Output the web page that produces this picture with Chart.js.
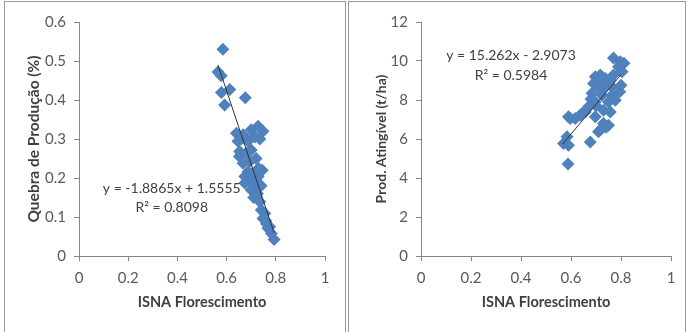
<!DOCTYPE html>
<html>
<head>
<meta charset="utf-8">
<script src="https://cdn.jsdelivr.net/npm/chart.js@4.4.1/dist/chart.umd.min.js"></script>
<style>
  body { margin: 0; background: #fff; width: 687px; height: 332px; overflow: hidden; position: relative; }
  canvas { position: absolute; top: 0; }
  #c1 { left: 0; }
  #c2 { left: 345px; }
  .panel { position: absolute; top: 1px; height: 340px; border: 1px solid #9a9a9a; box-sizing: border-box; pointer-events: none; }
</style>
</head>
<body>
<canvas id="c1" width="345" height="332"></canvas>
<canvas id="c2" width="342" height="332"></canvas>
<div class="panel" style="left:4px;width:342px;"></div>
<div class="panel" style="left:348px;width:338px;"></div>
<script>
// left chart: Quebra de Produção vs ISNA
const isnaLeft = [0.585, 0.565, 0.578, 0.579, 0.613, 0.592, 0.676, 0.640, 0.667, 0.700,
  0.728, 0.748, 0.714, 0.687, 0.646, 0.653, 0.680, 0.700, 0.652, 0.667,
  0.694, 0.687, 0.707, 0.674, 0.728, 0.707, 0.674, 0.728, 0.700, 0.720,
  0.735, 0.741, 0.755, 0.748, 0.762, 0.768, 0.782, 0.793, 0.730, 0.745,
  0.720, 0.740, 0.725, 0.710, 0.735, 0.760, 0.775, 0.700, 0.715, 0.660];
const quebra = [0.530, 0.472, 0.462, 0.419, 0.427, 0.387, 0.406, 0.315, 0.311, 0.324,
  0.333, 0.320, 0.307, 0.294, 0.294, 0.268, 0.264, 0.272, 0.255, 0.238,
  0.242, 0.216, 0.212, 0.204, 0.204, 0.195, 0.187, 0.178, 0.169, 0.152,
  0.139, 0.118, 0.109, 0.096, 0.083, 0.071, 0.058, 0.042, 0.225, 0.220,
  0.250, 0.180, 0.160, 0.150, 0.300, 0.090, 0.075, 0.190, 0.305, 0.300];
const trendLeft = { slope: -1.8865, intercept: 1.5555, from: 0.565, to: 0.793 };
const eqLeft = ["y = -1.8865x + 1.5555", "R² = 0.8098"];

// right chart: Prod. Atingível vs ISNA
const isnaRight = [0.770, 0.797, 0.812, 0.790, 0.804, 0.770, 0.697, 0.717, 0.737, 0.757,
  0.690, 0.710, 0.737, 0.764, 0.800, 0.684, 0.724, 0.764, 0.795, 0.697,
  0.750, 0.777, 0.670, 0.657, 0.637, 0.617, 0.597, 0.730, 0.757, 0.590,
  0.644, 0.697, 0.730, 0.750, 0.710, 0.677, 0.584, 0.570, 0.590, 0.588,
  0.720, 0.740, 0.700, 0.680, 0.720];
const prodAting = [10.15, 9.96, 9.88, 9.70, 9.45, 9.28, 9.19, 9.28, 9.10, 9.02,
  8.85, 8.68, 8.68, 8.68, 8.76, 8.34, 8.25, 8.25, 8.42, 7.90,
  7.90, 7.99, 7.65, 7.39, 7.22, 7.05, 7.05, 7.48, 7.39, 7.14,
  7.31, 7.14, 6.80, 6.71, 6.37, 5.85, 6.11, 5.77, 5.68, 4.72,
  6.50, 6.60, 7.70, 8.05, 9.00];
const trendRight = { slope: 15.262, intercept: -2.9073, from: 0.567, to: 0.800 };
const eqRight = ["y = 15.262x - 2.9073", "R² = 0.5984"];

const xTickLabels = ["0", "0.2", "0.4", "0.6", "0.8", "1"];
const yTickLabelsLeft = ["0", "0.1", "0.2", "0.3", "0.4", "0.5", "0.6"];
const yTickLabelsRight = ["0", "2", "4", "6", "8", "10", "12"];

const FONT = "Lato";
const AXIS = "#868686";
const TEXT = "#595959";
const BLUE = "#4f81bd";

function makeChart(id, xs, ys, trend, eq, eqPos, cfg) {
  const pts = xs.map((x, i) => ({ x: x, y: ys[i] }));
  const line = [trend.from, trend.to].map(x => ({ x: x, y: trend.slope * x + trend.intercept }));

  const eqPlugin = {
    id: "eq",
    afterDatasetsDraw(chart) {
      const ctx = chart.ctx;
      const xs = chart.scales.x, ys = chart.scales.y;
      ctx.save();
      ctx.fillStyle = "#404040";
      ctx.font = "14px " + FONT;
      ctx.textAlign = "center";
      ctx.textBaseline = "middle";
      ctx.fillText(eq[0], xs.getPixelForValue(eqPos.x), ys.getPixelForValue(eqPos.y1));
      ctx.fillText(eq[1], xs.getPixelForValue(eqPos.x), ys.getPixelForValue(eqPos.y2));
      ctx.restore();
    }
  };

  return new Chart(document.getElementById(id), {
    type: "scatter",
    data: {
      datasets: [
        {
          type: "line",
          data: line,
          borderColor: "#333333",
          borderWidth: 1,
          pointRadius: 0,
          fill: false,
        },
        {
          data: pts,
          pointStyle: "rectRot",
          pointRadius: 6.5,
          pointBackgroundColor: BLUE,
          pointBorderColor: BLUE,
          pointBorderWidth: 0,
        },
      ],
    },
    options: {
      responsive: false,
      animation: false,
      layout: { padding: { left: 0, right: cfg.padRight, top: 22, bottom: 0 } },
      plugins: { legend: { display: false }, tooltip: { enabled: false } },
      scales: {
        x: {
          type: "linear",
          min: 0,
          max: 1,
          afterFit: s => { s.height = 76; },
          ticks: {
            stepSize: 0.2,
            color: TEXT,
            font: { family: FONT, size: 15 },
            padding: 8,
            callback: (v, i) => xTickLabels[i],
          },
          grid: { drawOnChartArea: false, drawTicks: true, tickLength: 5, color: AXIS },
          border: { display: true, color: AXIS },
          title: {
            display: true,
            text: "ISNA Florescimento",
            color: "#404040",
            font: { family: FONT, size: 14.5, weight: "bold" },
            padding: { top: 0, bottom: 21 },
          },
        },
        y: {
          type: "linear",
          min: 0,
          max: cfg.yMax,
          afterFit: s => { s.width = cfg.yWidth; },
          ticks: {
            stepSize: cfg.yStep,
            color: TEXT,
            font: { family: FONT, size: 15 },
            padding: 8,
            callback: (v, i) => cfg.yLabels[i],
          },
          grid: { drawOnChartArea: false, drawTicks: true, tickLength: 5, color: AXIS },
          border: { display: true, color: AXIS },
          title: {
            display: true,
            text: cfg.yTitle,
            color: "#404040",
            font: { family: FONT, size: cfg.yTitleSize, weight: "bold" },
            padding: { top: cfg.yTitlePad, bottom: 0 },
          },
        },
      },
    },
    plugins: [eqPlugin],
  });
}

makeChart("c1", isnaLeft, quebra, trendLeft, eqLeft, { x: 0.377, y1: 0.174, y2: 0.125 }, {
  padRight: 20, yWidth: 79, yMax: 0.6, yStep: 0.1, yLabels: yTickLabelsLeft,
  yTitle: "Quebra de Produção (%)", yTitleSize: 15.5, yTitlePad: 25,
});
makeChart("c2", isnaRight, prodAting, trendRight, eqRight, { x: 0.36, y1: 10.3, y2: 9.28 }, {
  padRight: 16, yWidth: 76, yMax: 12, yStep: 2, yLabels: yTickLabelsRight,
  yTitle: "Prod. Atingível (t/ha)", yTitleSize: 14, yTitlePad: 28,
});
</script>
</body>
</html>
